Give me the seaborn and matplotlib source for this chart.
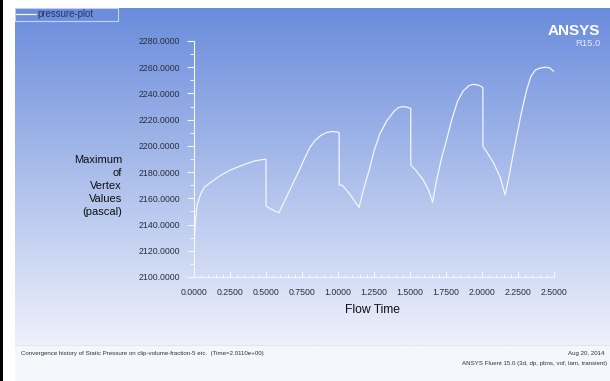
import numpy as np
import matplotlib
matplotlib.use("Agg")
import matplotlib.pyplot as plt
from matplotlib.colors import LinearSegmentedColormap
from matplotlib.patches import Rectangle
from matplotlib import font_manager
import seaborn as sns
import pandas as pd

# Maximum vertex static pressure history on clip-volume-fraction-5
flow_time = [
    0.000, 0.004, 0.010, 0.016, 0.025, 0.045, 0.072,
    0.120, 0.170, 0.250, 0.342, 0.420, 0.470, 0.500, 0.5005,
    0.520, 0.540, 0.590,
    0.640, 0.690, 0.736, 0.770, 0.806, 0.840, 0.880, 0.920, 0.960, 1.000, 1.008, 1.0085,
    1.030, 1.080, 1.146,
    1.180, 1.217, 1.250, 1.290, 1.338, 1.390, 1.420, 1.450, 1.480, 1.505, 1.5055,
    1.540, 1.592, 1.630, 1.657,
    1.685, 1.720, 1.755, 1.790, 1.830, 1.870, 1.910, 1.940, 1.980, 2.006, 2.0065,
    2.033, 2.080, 2.125, 2.160,
    2.183, 2.210, 2.240, 2.275, 2.310, 2.340, 2.370, 2.400, 2.438, 2.470, 2.507,
]
max_pressure = [
    2108.0, 2130.0, 2142.0, 2150.0, 2156.0, 2163.0, 2168.5,
    2172.5, 2176.5, 2181.5, 2185.5, 2188.5, 2189.5, 2189.8, 2154.0,
    2152.8, 2151.5, 2149.0,
    2160.5, 2172.0, 2182.5, 2191.0, 2199.0, 2204.0, 2208.0, 2210.2, 2211.0, 2210.5, 2210.0, 2170.2,
    2170.0, 2163.5, 2153.0,
    2168.0, 2181.6, 2196.0, 2209.0, 2219.0, 2226.5, 2229.2, 2230.0, 2229.5, 2228.6, 2185.4,
    2181.5, 2174.0, 2166.0, 2157.0,
    2174.0, 2191.0, 2205.0, 2220.0, 2234.0, 2242.0, 2246.0, 2247.0, 2246.2, 2244.5, 2199.5,
    2195.5, 2187.0, 2176.5, 2162.5,
    2174.0, 2190.0, 2207.0, 2226.0, 2242.5, 2253.0, 2257.8, 2259.3, 2260.0, 2259.5, 2256.0,
]

x_ticks = [0.0, 0.25, 0.5, 0.75, 1.0, 1.25, 1.5, 1.75, 2.0, 2.25, 2.5]
y_ticks = [2100, 2120, 2140, 2160, 2180, 2200, 2220, 2240, 2260, 2280]

series_name = "pressure-plot"
y_label = "Maximum\nof\nVertex\nValues\n(pascal)"
x_label = "Flow Time"
footer_left = "Convergence history of Static Pressure on clip-volume-fraction-5 etc.  (Time=2.0110e+00)"
footer_date = "Aug 20, 2014"
footer_solver = "ANSYS Fluent 15.0 (3d, dp, pbns, vof, lam, transient)"

sns.set_style("ticks")
plt.rcParams["font.family"] = ["Liberation Sans", "DejaVu Sans"]

# Prefer a condensed face for the small captions when one is installed
installed = {f.name for f in font_manager.fontManager.ttflist}
narrow = "Liberation Sans Narrow" if "Liberation Sans Narrow" in installed else "Liberation Sans"

W, H = 610, 381
fig = plt.figure(figsize=(W / 100, H / 100), dpi=100)
fig.patch.set_facecolor("white")

# Window background: black edge, white margin, blue gradient panel, footer strip
bg = fig.add_axes([0, 0, 1, 1], zorder=-5)
bg.set_xlim(0, W)
bg.set_ylim(H, 0)
bg.axis("off")
bg.add_patch(Rectangle((0, 0), 3, H, color="black", lw=0))
grad = LinearSegmentedColormap.from_list("panel", ["#6a8cdc", "#eef1fb"])
bg.imshow(np.linspace(0, 1, 256).reshape(-1, 1), cmap=grad, aspect="auto",
          extent=(15, W, 345, 8), interpolation="bilinear")
bg.add_patch(Rectangle((15, 345), W - 15, H - 345, color="#f6f7fc", lw=0))
bg.plot([15, W], [345, 345], color="#e2e6f2", lw=0.8)

# Plot area
ax = fig.add_axes([194 / W, (H - 277) / H, 360 / W, 236 / H])
ax.set_facecolor("none")
df = pd.DataFrame({"t": flow_time, "p": max_pressure})
sns.lineplot(data=df, x="t", y="p", ax=ax, sort=False, estimator=None,
             color="#f4f6fd", lw=0.9, label=series_name, legend=False)

ax.set_xlim(0, 2.5)
ax.set_ylim(2100, 2280)
ax.set_xticks(x_ticks)
ax.set_xticklabels([f"{v:.4f}" for v in x_ticks])
ax.set_yticks(y_ticks)
ax.set_yticklabels([f"{v:.4f}" for v in y_ticks])
ax.set_xticks(np.arange(0, 2.5001, 0.05), minor=True)
ax.set_yticks(np.arange(2100, 2280.1, 10), minor=True)
ax.set_xlabel("")
ax.set_ylabel("")
for side in ["top", "right"]:
    ax.spines[side].set_visible(False)
for side in ["left", "bottom"]:
    ax.spines[side].set_color("#f4f6fd")
    ax.spines[side].set_linewidth(0.8)
tick_col = "#f4f6fd"
ax.tick_params(axis="y", which="major", direction="out", length=5, width=0.8,
               color=tick_col, labelsize=6.3, labelcolor="#2b2f3d", pad=4.8)
ax.tick_params(axis="y", which="minor", direction="out", length=3, width=0.7, color=tick_col)
ax.tick_params(axis="x", which="major", direction="in", length=4, width=0.8,
               color=tick_col, labelsize=6.3, labelcolor="#2b2f3d", pad=8)
ax.tick_params(axis="x", which="minor", direction="in", length=2, width=0.7, color=tick_col)

fig.text(373 / W, 1 - 310 / H, x_label, ha="center", va="center", fontsize=8.7, color="#111111")
fig.text(122 / W, 1 - 186 / H, y_label, ha="right", va="center", multialignment="right",
         fontsize=8.0, linespacing=1.38, color="#111111", family=[narrow, "DejaVu Sans"])

# Legend
leg = fig.legend(handles=ax.get_lines()[:1], labels=[series_name], loc="upper left",
                 bbox_to_anchor=(15 / W, 1 - 19 / H, 103 / W, 11 / H), mode="expand",
                 borderaxespad=0, frameon=True, fancybox=False, fontsize=6.9,
                 handlelength=2.0, handletextpad=0.2, borderpad=0.15,
                 labelcolor="#27365e")
leg.get_frame().set_edgecolor("#dbe2f4")
leg.get_frame().set_facecolor("none")
leg.get_frame().set_linewidth(0.8)

# Branding
fig.text(600 / W, 1 - 31 / H, "ANSYS", ha="right", va="center", fontsize=11,
         weight="bold", color="white")
fig.text(600 / W, 1 - 44 / H, "R15.0", ha="right", va="center", fontsize=6.8, color="#e4e9f7")

# Footer
foot = dict(fontsize=4.4, color="#303030", family=[narrow, "DejaVu Sans"])
fig.text(20.7 / W, 1 - 354 / H, footer_left, ha="left", va="center", **foot)
fig.text(604 / W, 1 - 354 / H, footer_date, ha="right", va="center", **foot)
fig.text(607 / W, 1 - 364 / H, footer_solver, ha="right", va="center", **foot)

fig.savefig("out.png", dpi=100)
